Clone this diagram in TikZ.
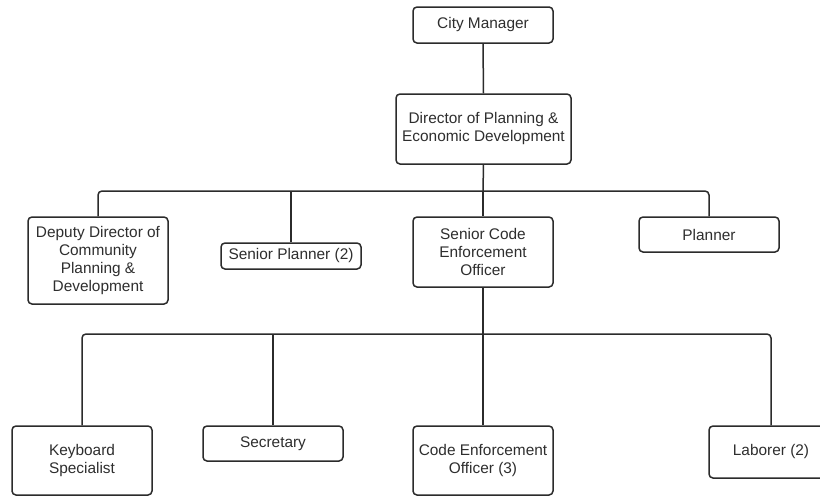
\documentclass[tikz,border=0pt]{standalone}
\usepackage{fontspec}
\setmainfont{Liberation Sans}
\begin{document}
\begin{tikzpicture}[x=1pt,y=-1pt,
  box/.style={draw=linegray, line width=1.5pt, rounded corners=4pt, fill=white,
    inner sep=0pt, align=center, text=textgray, minimum width=140pt,
    font=\fontsize{15.4}{18}\selectfont},
  link/.style={draw=linegray, line width=1.5pt},
  bus/.style={link, rounded corners=4pt}]
\definecolor{linegray}{HTML}{2B2B2B}
\definecolor{textgray}{HTML}{2E2E2E}
\useasboundingbox (0,0) rectangle (820,496);
\clip (0,0) rectangle (820,496);

% top levels
\node[box, minimum height=36pt] (cm) at (483,25) {City Manager};
\node[box, minimum width=175pt, minimum height=70pt] (dir) at (483.5,129)
  {Director of Planning \&\\Economic Development};

% second row
\node[box, minimum height=87pt] (dep) at (98,260.5)
  {Deputy Director of\\Community\\Planning \&\\Development};
\node[box, minimum height=26pt] (sp) at (291,256) {Senior Planner (2)};
\node[box, minimum height=70pt] (sce) at (483,252)
  {Senior Code\\Enforcement\\Officer};
\node[box, minimum height=35pt] (pl) at (709,234.5) {Planner};

% third row
\node[box, minimum height=69pt] (kb) at (82,460.5) {Keyboard\\Specialist};
\node[box, minimum height=35pt] (sec) at (273,443.5) {Secretary};
\node[box, minimum height=69pt] (ceo) at (483,460.5)
  {Code Enforcement\\Officer (3)};
\node[box, minimum width=124pt, minimum height=52pt] (lab) at (771,452)
  {Laborer (2)};

% bus levels
\coordinate (busA) at (483,191);
\coordinate (busB) at (483,334);

% connectors: trunk, horizontal bus with rounded outer corners, drops
\draw[link] (cm.south) -- (dir.north);
\draw[link] (dir.south) -- (busA);
\draw[bus] (dep.north) |- (busA) -| (pl.north);
\draw[link] (sp.north |- busA) -- (sp.north);
\draw[link] (busA) -- (sce.north);

\draw[link] (sce.south) -- (busB);
\draw[bus] (kb.north) |- (busB) -| (lab.north);
\draw[link] (sec.north |- busB) -- (sec.north);
\draw[link] (busB) -- (ceo.north);
\end{tikzpicture}
\end{document}
